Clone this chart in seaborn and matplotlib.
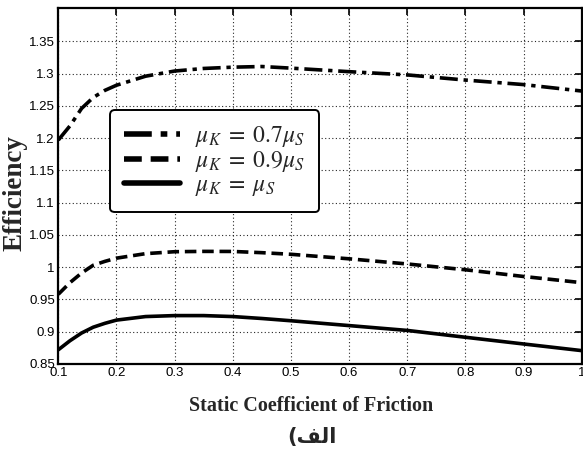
import matplotlib
matplotlib.use("Agg")
from matplotlib import pyplot as plt
from matplotlib.ticker import FuncFormatter
from pandas import DataFrame
import seaborn as sns


# values
mu_s = [0.1, 0.12, 0.14, 0.16, 0.18, 0.2, 0.25, 0.3, 0.35, 0.4, 0.45, 0.5,
        0.6, 0.7, 0.8, 0.9, 1.0]
eff_07 = [1.197, 1.219, 1.246, 1.263, 1.274, 1.282, 1.296, 1.304, 1.308, 1.310,
          1.311, 1.3085, 1.303, 1.298, 1.290, 1.283, 1.273]
eff_09 = [0.958, 0.976, 0.991, 1.003, 1.009, 1.014, 1.021, 1.024, 1.0245, 1.0244,
          1.0225, 1.020, 1.013, 1.005, 0.996, 0.9856, 0.976]
eff_10 = [0.872, 0.886, 0.898, 0.907, 0.913, 0.918, 0.9235, 0.925, 0.925, 0.9235,
          0.9205, 0.917, 0.9095, 0.902, 0.8914, 0.881, 0.8707]

labels = [r"$\mu_K\;=\;0.7\mu_S$", r"$\mu_K\;=\;0.9\mu_S$", r"$\mu_K\;=\;\mu_S$"]
x_ticks = [0.1, 0.2, 0.3, 0.4, 0.5, 0.6, 0.7, 0.8, 0.9, 1.0]
y_ticks = [0.85, 0.9, 0.95, 1.0, 1.05, 1.1, 1.15, 1.2, 1.25, 1.3, 1.35]

# caption "الف)" in presentation forms, visual order
caption = "(\ufed2\ufedf\ufe8d"

sns.set_style("white")
plt.rcParams["mathtext.fontset"] = "stix"
plt.rcParams["font.family"] = ["Liberation Sans Narrow", "Liberation Sans", "DejaVu Sans"]

df = DataFrame({"mu": mu_s, "e07": eff_07, "e09": eff_09, "e10": eff_10})

fig = plt.figure(figsize=(5.83, 4.59), dpi=100)
ax = fig.add_axes([0.1, 0.207, 0.898, 0.776])

dash_styles = [[5.0, 1.6, 1.2, 1.6], [3.2, 1.6], []]
for col, lab, dsh in zip(["e07", "e09", "e10"], labels, dash_styles):
    sns.lineplot(data=df, x="mu", y=col, ax=ax, color="black", linewidth=2.6, label=lab)
    if dsh:
        ax.lines[-1].set_dashes(dsh)

ax.set_xlim(0.1, 1.0)
ax.set_ylim(0.85, 1.402)
ax.set_xticks(x_ticks)
ax.set_yticks(y_ticks)
ax.xaxis.set_major_formatter(FuncFormatter(lambda v, p: f"{v:g}"))
ax.yaxis.set_major_formatter(FuncFormatter(lambda v, p: f"{v:g}"))
ax.tick_params(direction="in", length=5, width=1.2, top=True, right=True,
               labelsize=9.5, colors="black", pad=2.5)
ax.grid(True, color="black", linestyle=(0, (1, 2.2)), linewidth=0.8, alpha=0.85)
for sp in ax.spines.values():
    sp.set_visible(True)
    sp.set_linewidth(1.6)
    sp.set_color("black")

ax.set_xlabel("Static Coefficient of Friction", family="Liberation Serif",
              fontweight="bold", fontsize=14.5)
ax.xaxis.set_label_coords(0.483, -0.09)
ax.set_ylabel("Efficiency", family="Liberation Serif", fontweight="bold",
              fontsize=19.5)
ax.yaxis.set_label_coords(-0.083, 0.48)
ax.yaxis.label.set_va("center")

leg = ax.legend(loc="upper left", bbox_to_anchor=(0.099, 0.713), fontsize=17,
                handlelength=2.35, handletextpad=0.65, labelspacing=0.0,
                borderpad=0.6, borderaxespad=0, fancybox=True, framealpha=1,
                edgecolor="black")
leg.get_frame().set_linewidth(1.4)
for h in leg.get_lines():
    h.set_linewidth(4)

fig.text(0.535, 0.048, caption, ha="center", va="center", fontsize=15,
         fontweight="bold", family=["DejaVu Sans"])

plt.savefig("out.png", dpi=100)
